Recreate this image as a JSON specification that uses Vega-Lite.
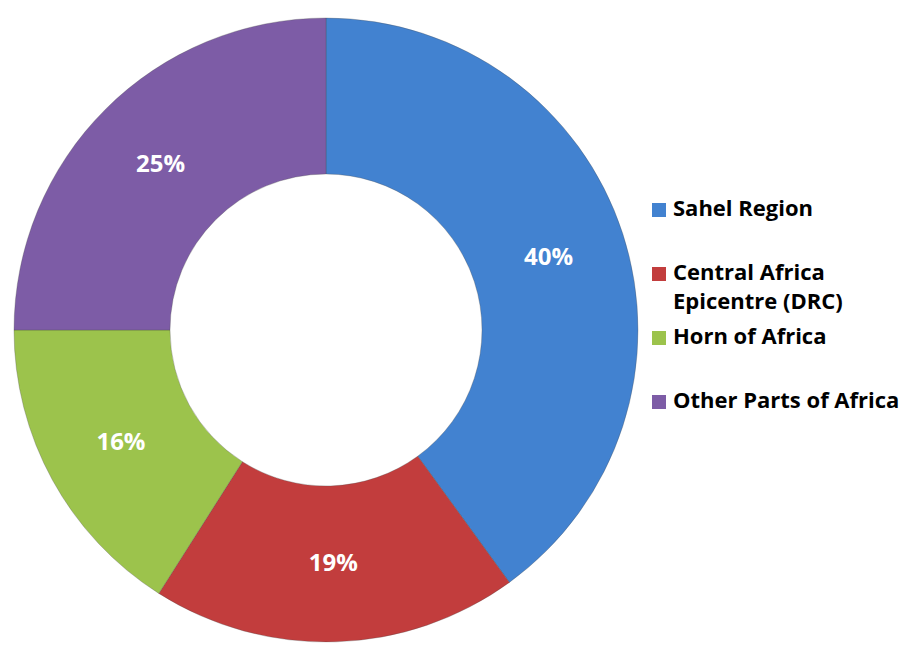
{
  "$schema": "https://vega.github.io/schema/vega-lite/v6.json",
  "padding": 0,
  "spacing": 0,
  "background": "white",
  "config": {"view": {"stroke": null}, "font": "Open Sans"},
  "data": {
    "values": [
      {"region": "Sahel Region", "share": 0.40, "order": 1},
      {"region": "Central Africa\nEpicentre (DRC)", "share": 0.19, "order": 2},
      {"region": "Horn of Africa", "share": 0.16, "order": 3},
      {"region": "Other Parts of Africa", "share": 0.25, "order": 4}
    ]
  },
  "hconcat": [
    {
      "width": 652,
      "height": 660,
      "encoding": {
        "theta": {"field": "share", "type": "quantitative", "stack": true},
        "order": {"field": "order", "type": "quantitative"},
        "color": {
          "field": "region",
          "type": "nominal",
          "legend": null,
          "scale": {
            "domain": ["Sahel Region", "Central Africa\nEpicentre (DRC)", "Horn of Africa", "Other Parts of Africa"],
            "range": ["#4282d0", "#c23d3d", "#9cc34c", "#7d5ca6"]
          }
        }
      },
      "layer": [
        {"mark": {"type": "arc", "radius": 312, "radius2": 156, "stroke": "#4a4a4a", "strokeWidth": 0.6, "strokeOpacity": 0.5}},
        {
          "mark": {"type": "text", "radius": 234, "font": "Open Sans", "fontWeight": "bold", "fontSize": 24, "fill": "white"},
          "encoding": {"text": {"field": "share", "type": "quantitative", "format": ".0%"}, "color": {"value": "white"}}
        }
      ]
    },
    {
      "width": 12,
      "height": 612,
      "encoding": {
        "y": {
          "field": "order",
          "type": "quantitative",
          "axis": null,
          "scale": {"domain": [-2.28125, 7.28125], "reverse": true, "zero": false, "nice": false}
        }
      },
      "layer": [
        {
          "mark": {"type": "square", "size": 196, "filled": true, "opacity": 1},
          "encoding": {"color": {"field": "region", "type": "nominal", "legend": null}}
        },
        {
          "mark": {"type": "text", "align": "left", "baseline": "top", "dx": 14, "dy": -11, "lineBreak": "\n", "lineHeight": 29, "font": "Open Sans", "fontWeight": "bold", "fontSize": 22, "fill": "black"},
          "encoding": {"text": {"field": "region", "type": "nominal"}}
        }
      ]
    }
  ]
}
